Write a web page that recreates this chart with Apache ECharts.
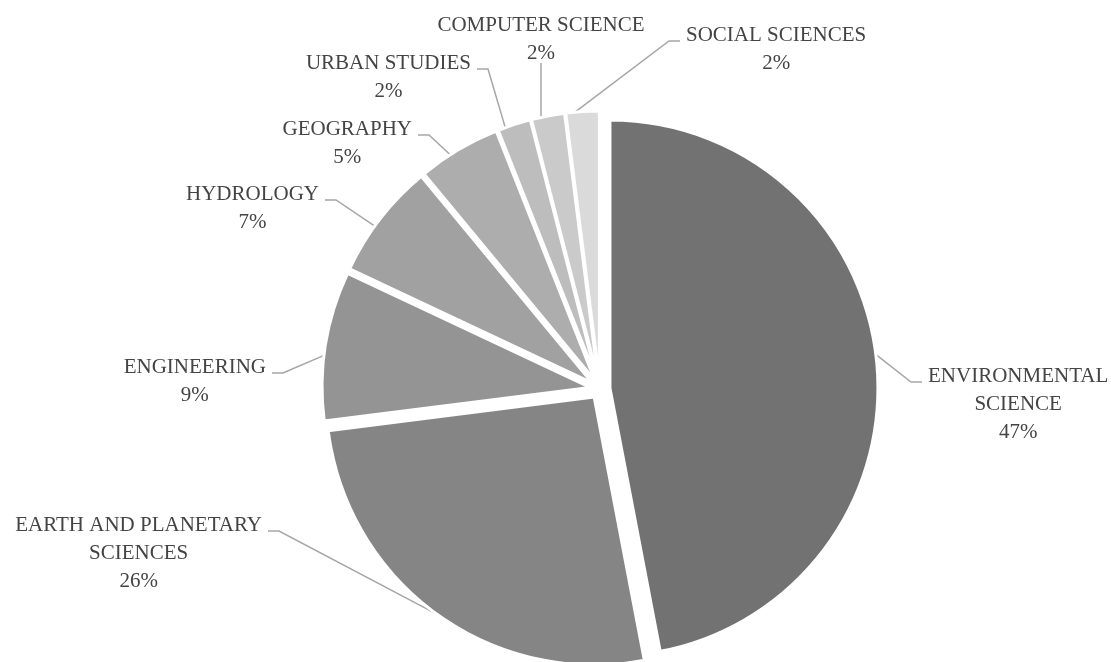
<!DOCTYPE html>
<html>
<head>
<meta charset="utf-8">
<script src="https://cdn.jsdelivr.net/npm/echarts@6/dist/echarts.min.js"></script>
<style>
  html, body { margin: 0; padding: 0; background: #fff; }
  #chart { width: 1111px; height: 662px; }
</style>
</head>
<body>
<div id="chart"></div>
<script>
// data (share of papers per subject area, %)
var categories = [
  'ENVIRONMENTAL\nSCIENCE',
  'EARTH AND PLANETARY\nSCIENCES',
  'ENGINEERING',
  'HYDROLOGY',
  'GEOGRAPHY',
  'URBAN STUDIES',
  'COMPUTER SCIENCE',
  'SOCIAL SCIENCES'
];
var percents = [47, 26, 9, 7, 5, 2, 2, 2];
var sliceColors = ['#727272', '#858585', '#949494', '#a1a1a1', '#adadad', '#bdbdbd', '#cacaca', '#dadada'];

// layout (pixels)
var CX = 600, CY = 389, R = 268, EXPLODE = 10, LINE_H = 28;
// where each leader line ends, next to its label
var labelPlace = [
  { x: 922, y: 382, side: 'right' },
  { x: 268, y: 531, side: 'left' },
  { x: 272, y: 373, side: 'left' },
  { x: 325, y: 200, side: 'left' },
  { x: 418, y: 135, side: 'left' },
  { x: 477, y: 69,  side: 'left' },
  { x: 541, y: 63,  side: 'top' },
  { x: 680, y: 41,  side: 'right' }
];

var total = 0;
for (var k = 0; k < percents.length; k++) total += percents[k];

function midAngle(i) {
  var before = 0;
  for (var j = 0; j < i; j++) before += percents[j];
  return (before + percents[i] / 2) / total * Math.PI * 2;
}

function placeLabel(p) {
  var i = p.dataIndex;
  var a = labelPlace[i];
  var m = midAngle(i);
  var s = Math.sin(m), c = Math.cos(m);
  var ox = CX + EXPLODE * s, oy = CY - EXPLODE * c; // exploded slice centre
  var r = R - 1;
  var w = p.labelRect.width;
  var lines = categories[i].split('\n').length + 1;
  var start, bend, tx, ty;
  if (a.side === 'top') {
    var dx = a.x - ox;
    start = [a.x, oy - Math.sqrt(r * r - dx * dx)];
    bend = [a.x, a.y];
    tx = a.x;
    ty = a.y + 4 - lines * LINE_H;
  } else {
    // leader meets the slice a little before its middle, like the original
    var m2 = m - 2 * Math.PI / 180;
    start = [ox + r * Math.sin(m2), oy - r * Math.cos(m2)];
    var dir = a.side === 'right' ? 1 : -1;
    bend = [a.x - dir * 11, a.y];
    tx = a.x + dir * (6 + w / 2);
    ty = a.y - 6 - LINE_H / 2;
  }
  return {
    x: tx,
    y: ty,
    align: 'center',
    verticalAlign: 'top',
    labelLinePoints: [start, bend, [a.x, a.y]]
  };
}

var sliceData = [], labelData = [];
for (var i = 0; i < categories.length; i++) {
  sliceData.push({
    name: categories[i],
    value: percents[i],
    selected: true,
    itemStyle: { color: sliceColors[i] }
  });
  labelData.push({ name: categories[i], value: percents[i] });
}

var chart = echarts.init(document.getElementById('chart'), null, { renderer: 'canvas' });
chart.setOption({
  backgroundColor: '#ffffff',
  animation: false,
  series: [
    {
      // the slices, all pulled out a little
      type: 'pie',
      center: [CX, CY],
      radius: R,
      startAngle: 90,
      clockwise: true,
      silent: true,
      selectedMode: 'multiple',
      selectedOffset: EXPLODE,
      avoidLabelOverlap: false,
      label: { show: false },
      labelLine: { show: false },
      itemStyle: { borderColor: '#ffffff', borderWidth: 3 },
      emphasis: { disabled: true },
      data: sliceData
    },
    {
      // same pie, invisible, only carries the labels and leader lines
      type: 'pie',
      center: [CX, CY],
      radius: R,
      startAngle: 90,
      clockwise: true,
      silent: true,
      avoidLabelOverlap: false,
      itemStyle: { color: 'rgba(0,0,0,0)', borderWidth: 0 },
      emphasis: { disabled: true },
      label: {
        show: true,
        position: 'outside',
        fontFamily: '"Liberation Serif", "DejaVu Serif", serif',
        fontSize: 21,
        lineHeight: LINE_H,
        color: '#444444',
        formatter: function (p) { return p.name + '\n' + p.value + '%'; }
      },
      labelLine: {
        show: true,
        smooth: false,
        lineStyle: { color: '#a6a6a6', width: 1.5 }
      },
      labelLayout: placeLabel,
      data: labelData
    }
  ]
});
</script>
</body>
</html>
